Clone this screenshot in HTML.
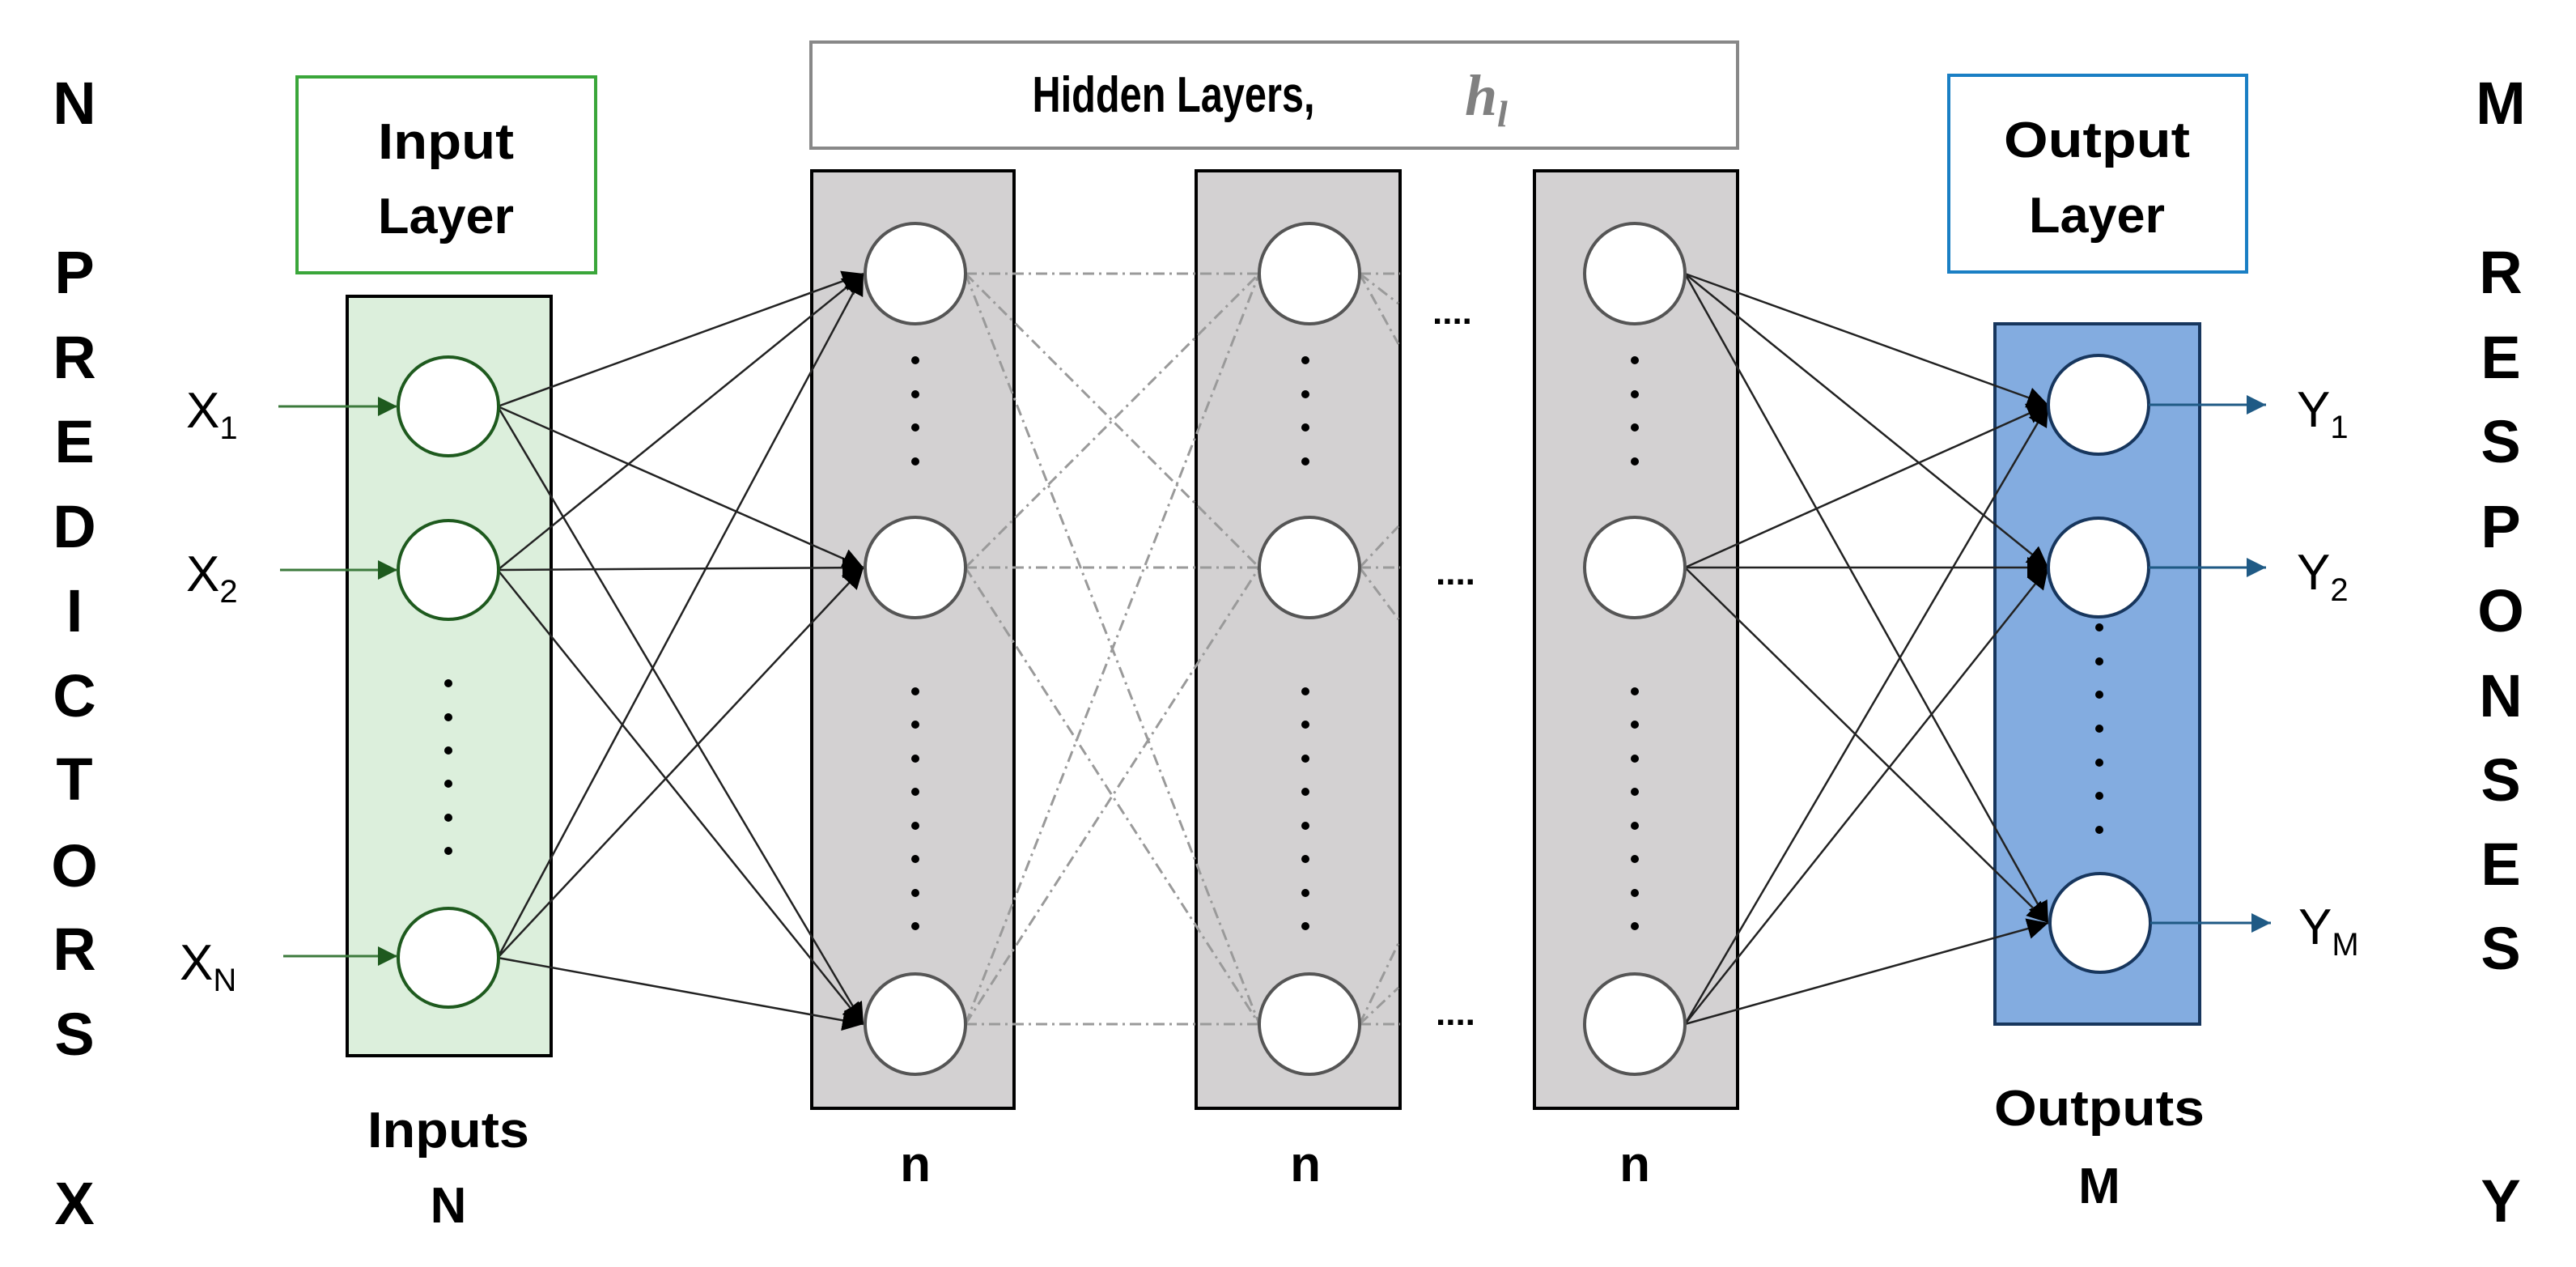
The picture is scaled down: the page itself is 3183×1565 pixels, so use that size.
<!DOCTYPE html>
<html><head><meta charset="utf-8"><style>html,body{margin:0;padding:0;background:#fff}svg{display:block}</style></head>
<body>
<svg width="3183" height="1565" viewBox="0 0 3183 1565" xmlns="http://www.w3.org/2000/svg" font-family="Liberation Sans, sans-serif">
<defs>
<marker id="ab" viewBox="0 0 10 10" refX="10" refY="5" markerWidth="11" markerHeight="11" markerUnits="userSpaceOnUse" orient="auto"><path d="M0,0L10,5L0,10z" fill="#000"/></marker>
<marker id="ab2" viewBox="0 0 10 10" refX="10" refY="5" markerWidth="26" markerHeight="26" markerUnits="userSpaceOnUse" orient="auto"><path d="M0,0L10,5L0,10z" fill="#000"/></marker>
<marker id="ag" viewBox="0 0 10 10" refX="10" refY="5" markerWidth="24" markerHeight="24" markerUnits="userSpaceOnUse" orient="auto"><path d="M0,0L10,5L0,10z" fill="#1e5a1e"/></marker>
<marker id="abl" viewBox="0 0 10 10" refX="10" refY="5" markerWidth="24" markerHeight="24" markerUnits="userSpaceOnUse" orient="auto"><path d="M0,0L10,5L0,10z" fill="#1f5a85"/></marker>
</defs>

<!-- side letters -->
<g font-weight="bold" font-size="74" text-anchor="middle" fill="#000">
<text x="92" y="153">N</text><text x="92" y="362">P</text><text x="92" y="467">R</text><text x="92" y="571">E</text><text x="92" y="676">D</text><text x="92" y="780">I</text><text x="92" y="885">C</text><text x="92" y="988">T</text><text x="92" y="1095">O</text><text x="92" y="1198">R</text><text x="92" y="1303">S</text><text x="92" y="1512">X</text>
<text x="3090" y="153">M</text><text x="3090" y="362">R</text><text x="3090" y="467">E</text><text x="3090" y="571">S</text><text x="3090" y="676">P</text><text x="3090" y="780">O</text><text x="3090" y="885">N</text><text x="3090" y="989">S</text><text x="3090" y="1093">E</text><text x="3090" y="1197">S</text><text x="3090" y="1509">Y</text>
</g>

<!-- label boxes -->
<rect x="367" y="95" width="369" height="242" fill="#fff" stroke="#3aa63a" stroke-width="4"/>
<rect x="2408" y="93" width="368" height="243" fill="#fff" stroke="#1a7fc4" stroke-width="4"/>
<rect x="1002" y="52" width="1145" height="131" fill="#fff" stroke="#888" stroke-width="4"/>
<g font-weight="bold" font-size="62" text-anchor="middle">
<text x="551" y="196" textLength="168" lengthAdjust="spacingAndGlyphs">Input</text>
<text x="551" y="288" textLength="168" lengthAdjust="spacingAndGlyphs">Layer</text>
<text x="2591" y="194" textLength="230" lengthAdjust="spacingAndGlyphs">Output</text>
<text x="2591" y="287" textLength="168" lengthAdjust="spacingAndGlyphs">Layer</text>
<text x="1450" y="138" textLength="349" lengthAdjust="spacingAndGlyphs">Hidden Layers,</text>
</g>
<text x="1810" y="142" font-family="Liberation Serif, serif" font-style="italic" font-weight="bold" font-size="72" fill="#808080">h</text>
<text x="1850" y="156" font-family="Liberation Serif, serif" font-style="italic" font-weight="bold" font-size="46" fill="#808080">l</text>

<!-- columns -->
<rect x="429" y="366" width="252" height="938" fill="#dcefdc" stroke="#000" stroke-width="4"/>
<rect x="1003" y="211" width="250" height="1158" fill="#d3d1d2" stroke="#000" stroke-width="4"/>
<rect x="1478" y="211" width="252" height="1158" fill="#d3d1d2" stroke="#000" stroke-width="4"/>
<rect x="1896" y="211" width="251" height="1158" fill="#d3d1d2" stroke="#000" stroke-width="4"/>
<rect x="2465" y="400" width="253" height="865" fill="#83ace0" stroke="#17365d" stroke-width="4"/>

<!-- hidden dash-dot connections -->
<g stroke="#9a9a9a" stroke-width="3" stroke-dasharray="14,6,3,6" fill="none">
<line x1="1193" y1="338" x2="1556" y2="338"/><line x1="1193" y1="338" x2="1556" y2="701"/><line x1="1193" y1="338" x2="1556" y2="1265"/>
<line x1="1193" y1="701" x2="1556" y2="338"/><line x1="1193" y1="701" x2="1556" y2="701"/><line x1="1193" y1="701" x2="1556" y2="1265"/>
<line x1="1193" y1="1265" x2="1556" y2="338"/><line x1="1193" y1="1265" x2="1556" y2="701"/><line x1="1193" y1="1265" x2="1556" y2="1265"/>
<line x1="1680" y1="338" x2="1730" y2="338"/><line x1="1680" y1="338" x2="1728" y2="375"/><line x1="1680" y1="338" x2="1728" y2="425"/>
<line x1="1680" y1="701" x2="1730" y2="701"/><line x1="1680" y1="701" x2="1728" y2="650"/><line x1="1680" y1="701" x2="1728" y2="765"/>
<line x1="1680" y1="1265" x2="1730" y2="1265"/><line x1="1680" y1="1265" x2="1728" y2="1220"/><line x1="1680" y1="1265" x2="1728" y2="1165"/>
</g>

<!-- input -> hidden1 -->
<g stroke="#222" stroke-width="2.5" fill="none" marker-end="url(#ab2)">
<line x1="615" y1="502" x2="1067" y2="338"/><line x1="615" y1="502" x2="1067" y2="701"/><line x1="615" y1="502" x2="1067" y2="1265"/>
<line x1="615" y1="704" x2="1067" y2="338"/><line x1="615" y1="704" x2="1067" y2="701"/><line x1="615" y1="704" x2="1067" y2="1265"/>
<line x1="615" y1="1183" x2="1067" y2="338"/><line x1="615" y1="1183" x2="1067" y2="701"/><line x1="615" y1="1183" x2="1067" y2="1265"/>
</g>
<!-- hidden3 -> output -->
<g stroke="#222" stroke-width="2.5" fill="none" marker-end="url(#ab2)">
<line x1="2082" y1="338" x2="2531" y2="500"/><line x1="2082" y1="338" x2="2531" y2="701"/><line x1="2082" y1="338" x2="2531" y2="1140"/>
<line x1="2082" y1="701" x2="2531" y2="500"/><line x1="2082" y1="701" x2="2531" y2="701"/><line x1="2082" y1="701" x2="2531" y2="1140"/>
<line x1="2082" y1="1265" x2="2531" y2="500"/><line x1="2082" y1="1265" x2="2531" y2="701"/><line x1="2082" y1="1265" x2="2531" y2="1140"/>
</g>

<!-- circles -->
<g fill="#fff" stroke="#1e5a1e" stroke-width="4">
<ellipse cx="554" cy="502" rx="62" ry="61"/><ellipse cx="554" cy="704" rx="62" ry="61"/><ellipse cx="554" cy="1183" rx="62" ry="61"/>
</g>
<g fill="#fff" stroke="#555" stroke-width="4">
<ellipse cx="1131" cy="338" rx="62" ry="62"/><ellipse cx="1131" cy="701" rx="62" ry="62"/><ellipse cx="1131" cy="1265" rx="62" ry="62"/>
<ellipse cx="1618" cy="338" rx="62" ry="62"/><ellipse cx="1618" cy="701" rx="62" ry="62"/><ellipse cx="1618" cy="1265" rx="62" ry="62"/>
<ellipse cx="2020" cy="338" rx="62" ry="62"/><ellipse cx="2020" cy="701" rx="62" ry="62"/><ellipse cx="2020" cy="1265" rx="62" ry="62"/>
</g>
<g fill="#fff" stroke="#17365d" stroke-width="4">
<ellipse cx="2593" cy="500" rx="62" ry="61"/><ellipse cx="2593" cy="701" rx="62" ry="61"/><ellipse cx="2595" cy="1140" rx="62" ry="61"/>
</g>

<!-- vertical dots -->
<g fill="#000">
<circle cx="554" cy="844" r="5"/><circle cx="554" cy="886" r="5"/><circle cx="554" cy="927" r="5"/><circle cx="554" cy="968" r="5"/><circle cx="554" cy="1010" r="5"/><circle cx="554" cy="1051" r="5"/>
<g id="d1"><circle cx="1131" cy="445" r="5"/><circle cx="1131" cy="487" r="5"/><circle cx="1131" cy="528" r="5"/><circle cx="1131" cy="570" r="5"/>
<circle cx="1131" cy="854" r="5"/><circle cx="1131" cy="895" r="5"/><circle cx="1131" cy="937" r="5"/><circle cx="1131" cy="978" r="5"/><circle cx="1131" cy="1020" r="5"/><circle cx="1131" cy="1061" r="5"/><circle cx="1131" cy="1103" r="5"/><circle cx="1131" cy="1144" r="5"/></g>
<use href="#d1" x="482"/><use href="#d1" x="889"/>
<circle cx="2594" cy="775" r="5"/><circle cx="2594" cy="817" r="5"/><circle cx="2594" cy="858" r="5"/><circle cx="2594" cy="900" r="5"/><circle cx="2594" cy="942" r="5"/><circle cx="2594" cy="983" r="5"/><circle cx="2594" cy="1025" r="5"/>
</g>
<g font-size="44" font-weight="bold">
<text x="1770" y="400">....</text><text x="1774" y="722">....</text><text x="1774" y="1266">....</text>
</g>

<!-- input arrows -->
<g stroke="#3c7a3c" stroke-width="3" marker-end="url(#ag)">
<line x1="344" y1="502" x2="491" y2="502"/><line x1="346" y1="704" x2="491" y2="704"/><line x1="350" y1="1181" x2="491" y2="1181"/>
</g>
<g stroke="#1f5a85" stroke-width="3" marker-end="url(#abl)">
<line x1="2655" y1="500" x2="2800" y2="500"/><line x1="2655" y1="701" x2="2800" y2="701"/><line x1="2657" y1="1140" x2="2806" y2="1140"/>
</g>

<!-- X / Y labels -->
<g font-size="62" fill="#000">
<text x="230" y="528">X<tspan font-size="40" dy="14">1</tspan></text>
<text x="230" y="730">X<tspan font-size="40" dy="14">2</tspan></text>
<text x="222" y="1210">X<tspan font-size="40" dy="14">N</tspan></text>
<text x="2838" y="527">Y<tspan font-size="40" dy="14">1</tspan></text>
<text x="2838" y="728">Y<tspan font-size="40" dy="14">2</tspan></text>
<text x="2840" y="1166">Y<tspan font-size="40" dy="14">M</tspan></text>
</g>

<!-- bottom labels -->
<g font-weight="bold" font-size="62" text-anchor="middle">
<text x="554" y="1417" textLength="200" lengthAdjust="spacingAndGlyphs">Inputs</text>
<text x="554" y="1510">N</text>
<text x="1131" y="1459">n</text><text x="1613" y="1459">n</text><text x="2020" y="1459">n</text>
<text x="2594" y="1390" textLength="260" lengthAdjust="spacingAndGlyphs">Outputs</text>
<text x="2594" y="1486">M</text>
</g>
</svg>
</body></html>
